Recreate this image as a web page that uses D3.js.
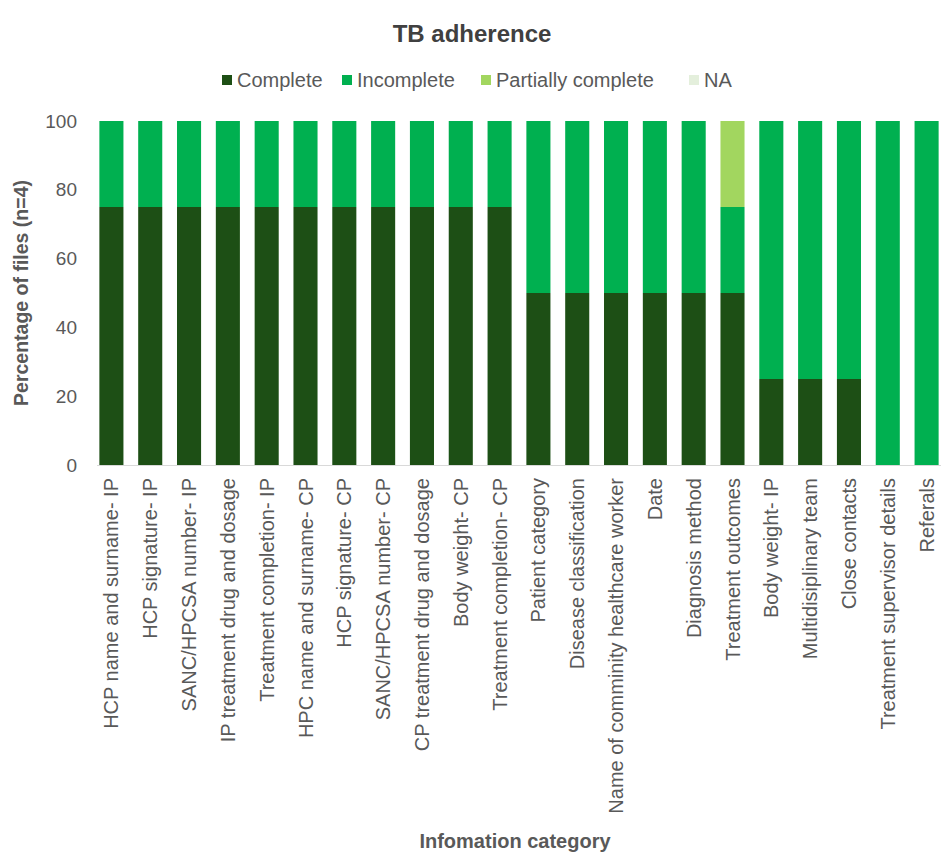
<!DOCTYPE html>
<html>
<head>
<meta charset="utf-8">
<script src="https://cdn.jsdelivr.net/npm/d3@7"></script>
<style>
  body { margin: 0; background: #fff; }
  svg { font-family: "Liberation Sans", Arial, sans-serif; }
</style>
</head>
<body>
<svg id="chart" width="950" height="854"></svg>
<script>
const categories = [
  "HCP name and surname- IP", "HCP signature- IP", "SANC/HPCSA number- IP",
  "IP treatment drug and dosage", "Treatment completion- IP", "HPC name and surname- CP",
  "HCP signature- CP", "SANC/HPCSA number- CP", "CP treatment drug and dosage",
  "Body weight- CP", "Treatment completion- CP", "Patient category",
  "Disease classification", "Name of comminity healthcare worker", "Date",
  "Diagnosis method", "Treatment outcomes", "Body weight- IP",
  "Multidisiplinary team", "Close contacts", "Treatment supervisor details", "Referals"
];
const complete          = [75, 75, 75, 75, 75, 75, 75, 75, 75, 75, 75, 50, 50, 50, 50, 50, 50, 25, 25, 25, 0, 0];
const incomplete        = [25, 25, 25, 25, 25, 25, 25, 25, 25, 25, 25, 50, 50, 50, 50, 50, 25, 75, 75, 75, 100, 100];
const partiallyComplete = [0, 0, 0, 0, 0, 0, 0, 0, 0, 0, 0, 0, 0, 0, 0, 0, 25, 0, 0, 0, 0, 0];
const notApplicable     = [0, 0, 0, 0, 0, 0, 0, 0, 0, 0, 0, 0, 0, 0, 0, 0, 0, 0, 0, 0, 0, 0];
const seriesNames = ["Complete", "Incomplete", "Partially complete", "NA"];
const yTicks = [0, 20, 40, 60, 80, 100];

const colors = ["#1d4f15", "#00b050", "#a2d65f", "#e4efdc"];
const textColor = "#595959";

const rows = categories.map((c, i) => ({
  category: c,
  "Complete": complete[i],
  "Incomplete": incomplete[i],
  "Partially complete": partiallyComplete[i],
  "NA": notApplicable[i]
}));

const svg = d3.select("#chart");
const plotLeft = 92, plotRight = 946, plotTop = 121, plotBottom = 465;

const x = d3.scaleBand().domain(categories).range([plotLeft, plotRight])
  .paddingInner(0.38).paddingOuter(0.19);
const y = d3.scaleLinear().domain([0, 100]).range([plotBottom, plotTop]);
const color = d3.scaleOrdinal(seriesNames, colors);

const stacked = d3.stack().keys(seriesNames)(rows);

// bars
svg.append("g").selectAll("g")
  .data(stacked)
  .join("g")
  .attr("fill", d => color(d.key))
  .selectAll("rect")
  .data(d => d)
  .join("rect")
  .attr("x", d => x(d.data.category))
  .attr("width", x.bandwidth())
  .attr("y", d => y(d[1]))
  .attr("height", d => y(d[0]) - y(d[1]));

// x axis line
svg.append("line")
  .attr("x1", 97).attr("x2", 941)
  .attr("y1", plotBottom + 0.5).attr("y2", plotBottom + 0.5)
  .attr("stroke", "#d9d9d9").attr("stroke-width", 1.2);

// y axis ticks
const yAxis = svg.append("g")
  .attr("transform", `translate(${plotLeft},0)`)
  .call(d3.axisLeft(y).tickValues(yTicks).tickSize(0).tickPadding(15));
yAxis.select(".domain").remove();
yAxis.selectAll("text")
  .attr("font-size", 19).attr("fill", textColor)
  .attr("font-family", "Liberation Sans, Arial, sans-serif");

// category labels
svg.append("g").selectAll("text")
  .data(categories)
  .join("text")
  .attr("transform", d => `translate(${x(d) + x.bandwidth() / 2 + 7},478) rotate(-90)`)
  .attr("text-anchor", "end")
  .attr("font-size", 20)
  .attr("fill", textColor)
  .text(d => d);

// title
svg.append("text")
  .attr("x", 472).attr("y", 42)
  .attr("text-anchor", "middle")
  .attr("font-size", 24).attr("font-weight", "bold")
  .attr("fill", "#404040")
  .text("TB adherence");

// legend
const legendX = [222, 342, 481, 689];
const legend = svg.append("g").selectAll("g")
  .data(seriesNames)
  .join("g")
  .attr("transform", (d, i) => `translate(${legendX[i]},80)`);
legend.append("rect")
  .attr("x", 0).attr("y", -5).attr("width", 10).attr("height", 10)
  .attr("fill", d => color(d));
legend.append("text")
  .attr("x", 15).attr("y", 7)
  .attr("font-size", 20).attr("fill", textColor)
  .text(d => d);

// axis titles
svg.append("text")
  .attr("transform", `translate(28,${(plotTop + plotBottom) / 2}) rotate(-90)`)
  .attr("text-anchor", "middle")
  .attr("font-size", 19.5).attr("font-weight", "bold")
  .attr("fill", textColor)
  .text("Percentage of files (n=4)");

svg.append("text")
  .attr("x", 515).attr("y", 848)
  .attr("text-anchor", "middle")
  .attr("font-size", 20).attr("font-weight", "bold")
  .attr("fill", textColor)
  .text("Infomation category");
</script>
</body>
</html>
